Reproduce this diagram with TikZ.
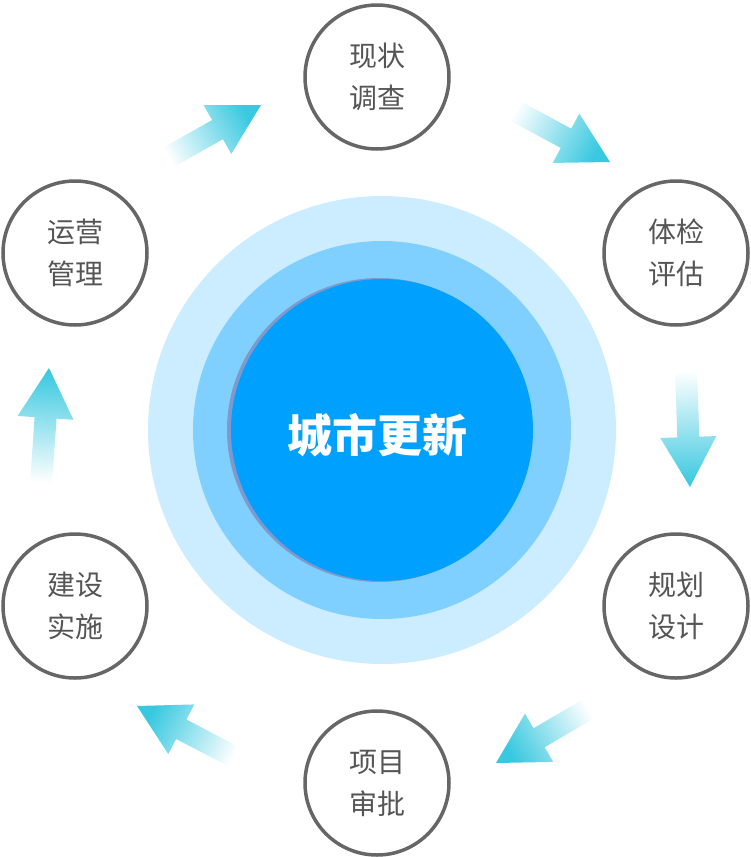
\documentclass[tikz,border=0pt]{standalone}
\usepackage{fontspec}
\setmainfont{Noto Sans CJK SC}
\usetikzlibrary{calc}
\definecolor{ringouter}{RGB}{204,237,255}
\definecolor{ringmid}{RGB}{128,208,255}
\definecolor{corefill}{RGB}{0,160,255}
\definecolor{coreedge}{RGB}{128,152,204}
\definecolor{stepline}{RGB}{102,102,102}
\definecolor{steptext}{RGB}{85,85,85}
\definecolor{flowcyan}{RGB}{56,200,224}
% gradient arrow from tail #1 to tip #2
\newcommand{\flowarrow}[2]{%
  \pgfmathanglebetweenpoints{\pgfpointanchor{#1}{center}}{\pgfpointanchor{#2}{center}}%
  \pgfmathsetmacro{\flowang}{\pgfmathresult+90}%
  \coordinate (fb) at ($(#2)!50pt!(#1)$);
  \shade[top color=white,bottom color=flowcyan,shading angle=\flowang]
    ($(#1)!11pt!90:(#2)$) -- ($(fb)!11pt!90:(#2)$) -- ($(fb)!28pt!90:(#2)$) -- (#2)
    -- ($(fb)!28pt!-90:(#2)$) -- ($(fb)!11pt!-90:(#2)$) -- ($(#1)!11pt!-90:(#2)$) -- cycle;}

\begin{document}
\begin{tikzpicture}[x=1pt,y=-1pt,
    stepnode/.style={circle,draw=stepline,line width=3.5pt,minimum size=144pt,inner sep=0pt,
      align=center,text=steptext,font=\fontsize{28pt}{42pt}\selectfont},
    corelabel/.style={text=white,font=\fontsize{45pt}{50pt}\selectfont\bfseries}]
  \useasboundingbox (0,0) rectangle (751,857);
  % rings
  \fill[ringouter] (382,430) circle (234pt);
  \fill[ringmid] (382,430) circle (189pt);
  \fill[coreedge] (379,430) circle (152pt);
  \fill[corefill] (382,430) circle (151pt);
  \node[corelabel] (core) at (377,435) {城市更新};
  % steps
  \node[stepnode] (survey) at (377,77) {现状\\调查};
  \node[stepnode] (assess) at (676,253) {体检\\评估};
  \node[stepnode] (plan) at (676,606) {规划\\设计};
  \node[stepnode] (approve) at (377,783) {项目\\审批};
  \node[stepnode] (build) at (75,606) {建设\\实施};
  \node[stepnode] (operate) at (75,253) {运营\\管理};
  % arrows
  \foreach \s/\e [count=\k] in {{162,161}/{261,105},{508,107}/{610,162},{686,370}/{690,487},
      {595,705}/{496,763},{240,760}/{137,706},{41,484}/{49,368}}{
    \coordinate (tail\k) at (\s);
    \coordinate (tip\k) at (\e);
    \flowarrow{tail\k}{tip\k}}
\end{tikzpicture}
\end{document}
